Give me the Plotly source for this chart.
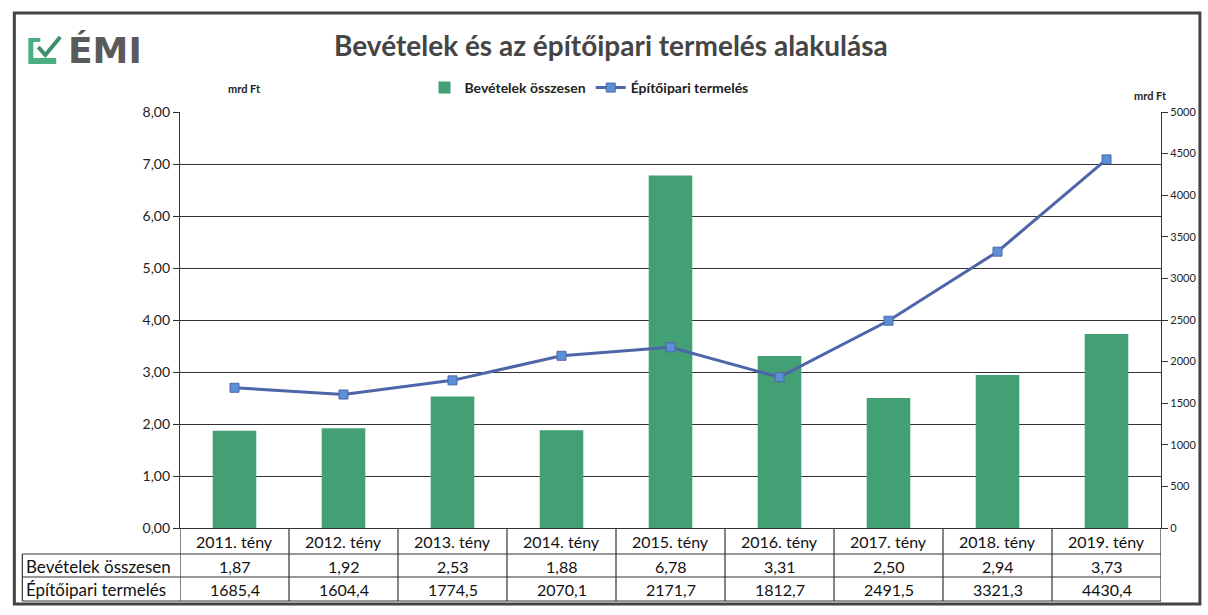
import plotly.graph_objects as go

# adatok
evek = ["2011. tény", "2012. tény", "2013. tény", "2014. tény", "2015. tény",
        "2016. tény", "2017. tény", "2018. tény", "2019. tény"]
bevetelek = [1.87, 1.92, 2.53, 1.88, 6.78, 3.31, 2.50, 2.94, 3.73]
termeles = [1685.4, 1604.4, 1774.5, 2070.1, 2171.7, 1812.7, 2491.5, 3321.3, 4430.4]
bal_tengely = [0, 1, 2, 3, 4, 5, 6, 7, 8]
jobb_tengely = [0, 500, 1000, 1500, 2000, 2500, 3000, 3500, 4000, 4500, 5000]

W, H = 1208, 615
L, R, T, B = 180, 1163, 112, 528  # plot terület pixelben
FONT = "Lato"
GREEN = "#43a074"
LINE = "#4e66a8"
MARK = "#5b8fd6"
DARK = "#333333"


def px(x):
    return (x - L) / (R - L)


def py(y):
    return (B - y) / (B - T)


def fmt(v, d):
    return f"{v:.{d}f}".replace(".", ",")


def felirat(x, y, text, size, xref="paper", xanchor="center", **kw):
    return dict(x=x, y=py(y), xref=xref, yref="paper", text=text, showarrow=False,
                xanchor=xanchor, yanchor="middle", font=dict(size=size, **kw))


xs = list(range(len(evek)))

fig = go.Figure()
fig.add_trace(go.Bar(x=xs, y=bevetelek, name="Bevételek összesen",
                     marker=dict(color=GREEN, line=dict(width=0)), width=0.4))
fig.add_trace(go.Scatter(x=xs, y=termeles, name="Építőipari termelés", yaxis="y2",
                         mode="lines+markers",
                         line=dict(color=LINE, width=3),
                         marker=dict(symbol="square", size=9, color=MARK,
                                     line=dict(color=LINE, width=1))))

shapes = []
ann = []

# keret
shapes.append(dict(type="rect", xref="paper", yref="paper",
                   x0=px(14), x1=px(1202), y0=py(604), y1=py(13),
                   line=dict(color="#444", width=3), layer="below"))

# táblázat vonalai
for yy in [554, 577, 601]:
    shapes.append(dict(type="line", xref="paper", yref="paper",
                       x0=px(22), x1=1, y0=py(yy), y1=py(yy),
                       line=dict(color=DARK, width=1.2)))
shapes.append(dict(type="line", xref="paper", yref="paper",
                   x0=px(22), x1=px(22), y0=py(554), y1=py(601),
                   line=dict(color=DARK, width=1.2)))
for i in range(len(evek) + 1):
    shapes.append(dict(type="line", xref="x", yref="paper",
                       x0=i - 0.5, x1=i - 0.5, y0=0, y1=py(601),
                       line=dict(color=DARK, width=1.2)))

for i, ev in enumerate(evek):
    ann.append(felirat(i, 541, ev, 16, xref="x", color="#111"))
    ann.append(felirat(i, 566, fmt(bevetelek[i], 2), 16, xref="x", color="#111"))
    ann.append(felirat(i, 589, fmt(termeles[i], 1), 16, xref="x", color="#111"))
ann.append(felirat(px(24), 566, "Bevételek összesen", 17, xanchor="left", color="#111"))
ann.append(felirat(px(24), 589, "Építőipari termelés", 17, xanchor="left", color="#111"))

# cím, mértékegységek
ann.append(felirat(px(612), 45, "<b>Bevételek és az építőipari termelés alakulása</b>", 28,
                   color="#454545"))
ann.append(felirat(px(245), 88, "<b>mrd Ft</b>", 11, color="#222"))
ann.append(felirat(px(1152), 96, "<b>mrd Ft</b>", 11, color="#222"))

# logó
shapes.append(dict(type="path", xref="paper", yref="paper",
                   path=f"M {px(28)},{py(38)} L {px(40)},{py(38)} L {px(40)},{py(42)} "
                        f"L {px(33)},{py(42)} L {px(33)},{py(58)} L {px(56)},{py(58)} "
                        f"L {px(56)},{py(64)} L {px(28)},{py(64)} Z",
                   fillcolor="#4caf84", line=dict(width=0)))
shapes.append(dict(type="path", xref="paper", yref="paper",
                   path=f"M {px(38)},{py(47)} L {px(45)},{py(55)} L {px(60)},{py(37)}",
                   line=dict(color="#3f8f6a", width=4)))
ann.append(felirat(px(66), 51, "<b>ÉMI</b>", 36, xanchor="left",
                   color="#5a5a5a", family="DejaVu Sans"))

fig.update_layout(
    width=W, height=H,
    margin=dict(l=L, r=W - R, t=T, b=H - B),
    paper_bgcolor="white", plot_bgcolor="white",
    font=dict(family=FONT, color="#222"),
    separators=",.",
    showlegend=True,
    legend=dict(orientation="h", x=px(425), y=py(88), xanchor="left", yanchor="middle",
                font=dict(size=14, color="#222", weight="bold"), bgcolor="rgba(0,0,0,0)",
                itemwidth=30, tracegroupgap=0),
    xaxis=dict(range=[-0.5, len(evek) - 0.5], showticklabels=False, showgrid=False,
               zeroline=False, showline=True, linecolor=DARK, linewidth=1.2),
    yaxis=dict(range=[0, 8], tickvals=bal_tengely, tickformat=".2f",
               showgrid=True, gridcolor=DARK, gridwidth=1,
               zeroline=False, showline=True, linecolor=DARK, linewidth=1.2,
               ticks="outside", ticklen=6, tickcolor=DARK,
               tickfont=dict(size=14, color="#222")),
    yaxis2=dict(range=[0, 5000], tickvals=jobb_tengely, tickformat="d",
                overlaying="y", side="right", showgrid=False, zeroline=False,
                showline=True, linecolor=DARK, linewidth=1.2,
                ticks="outside", ticklen=6, tickcolor=DARK,
                tickfont=dict(size=11, color="#222")),
    bargap=0.6,
    shapes=shapes,
    annotations=ann,
)

fig.write_html("out.html", config={"displayModeBar": False},
               post_script="document.body.style.margin='0';")
